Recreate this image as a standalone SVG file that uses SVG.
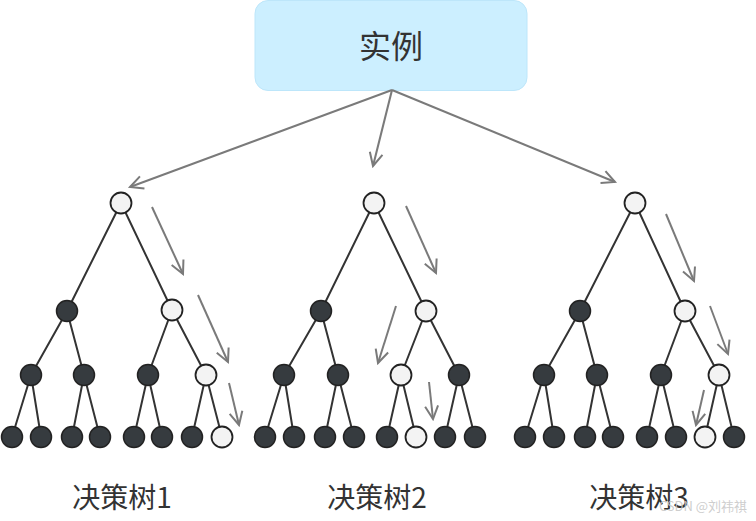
<svg xmlns="http://www.w3.org/2000/svg" width="756" height="521" viewBox="0 0 756 521">
<style>
.e{stroke:#333;stroke-width:2;fill:none}
.a{stroke:#7a7a7a;stroke-width:2;fill:none;marker-end:url(#arr)}
.d{fill:#363b3f;stroke:#222;stroke-width:1.5}
.l{fill:#f3f3f3;stroke:#222;stroke-width:1.8}
.t{font-family:"Noto Sans CJK SC","Noto Sans",sans-serif;fill:#333;text-anchor:middle}
</style>
<defs>
<marker id="arr" markerWidth="16" markerHeight="16" refX="14" refY="8" orient="auto" markerUnits="userSpaceOnUse">
<path d="M1,1.5 L14,8 L1,14.5" fill="none" stroke="#7a7a7a" stroke-width="2"/>
</marker>
</defs>
<rect width="756" height="521" fill="#fff"/>
<g id="root">
<rect x="255" y="0.5" width="272" height="90" rx="13" fill="#ccefff" stroke="#bde6fa" stroke-width="1"/>
<text class="t" x="391" y="58" font-size="32">实例</text>
</g>
<g id="connectors">
<line class="a" x1="392" y1="90" x2="130" y2="187"/>
<line class="a" x1="392" y1="90" x2="373" y2="166"/>
<line class="a" x1="392" y1="90" x2="615" y2="182"/>
<!-- tree 1 edges -->
<path class="e" d="M121,203 L67,311 M121,203 L172,310 M67,311 L31,375 M67,311 L84,375 M172,310 L148,375 M172,310 L206,375 M31,375 L12,437 M31,375 L41,437 M84,375 L72,437 M84,375 L100,437 M148,375 L134,437 M148,375 L162,437 M206,375 L192,437 M206,375 L222,437"/>
<!-- tree 2 edges -->
<path class="e" d="M374,203 L321,311 M374,203 L426,311 M321,311 L284,375 M321,311 L338,375 M426,311 L401,375 M426,311 L459,375 M284,375 L265,437 M284,375 L294,437 M338,375 L325,437 M338,375 L354,437 M401,375 L387,437 M401,375 L416,437 M459,375 L445,437 M459,375 L475,437"/>
<!-- tree 3 edges -->
<path class="e" d="M635,203 L580,311 M635,203 L685,311 M580,311 L544,375 M580,311 L597,375 M685,311 L661,375 M685,311 L719,375 M544,375 L525,437 M544,375 L554,437 M597,375 L585,437 M597,375 L613,437 M661,375 L647,437 M661,375 L676,437 M719,375 L705,437 M719,375 L734,437"/>
<!-- path arrows -->
<line class="a" x1="152" y1="207" x2="183" y2="274"/>
<line class="a" x1="198" y1="295" x2="228" y2="362"/>
<line class="a" x1="229" y1="383" x2="239" y2="425"/>
<line class="a" x1="406" y1="206" x2="436" y2="273"/>
<line class="a" x1="396" y1="306" x2="378" y2="363"/>
<line class="a" x1="429" y1="382" x2="433" y2="419"/>
<line class="a" x1="666" y1="214" x2="694" y2="281"/>
<line class="a" x1="710" y1="306" x2="728" y2="354"/>
<line class="a" x1="704" y1="390" x2="696" y2="425"/>
</g>
<!-- tree 1 nodes -->
<g id="t1-n0"><circle class="l" cx="121" cy="203" r="10.5"/></g>
<g id="t1-n1"><circle class="d" cx="67" cy="311" r="10.5"/></g>
<g id="t1-n2"><circle class="l" cx="172" cy="310" r="10.5"/></g>
<g id="t1-n3"><circle class="d" cx="31" cy="375" r="10.5"/></g>
<g id="t1-n4"><circle class="d" cx="84" cy="375" r="10.5"/></g>
<g id="t1-n5"><circle class="d" cx="148" cy="375" r="10.5"/></g>
<g id="t1-n6"><circle class="l" cx="206" cy="375" r="10.5"/></g>
<g id="t1-n7"><circle class="d" cx="12" cy="437" r="10.5"/></g>
<g id="t1-n8"><circle class="d" cx="41" cy="437" r="10.5"/></g>
<g id="t1-n9"><circle class="d" cx="72" cy="437" r="10.5"/></g>
<g id="t1-n10"><circle class="d" cx="100" cy="437" r="10.5"/></g>
<g id="t1-n11"><circle class="d" cx="134" cy="437" r="10.5"/></g>
<g id="t1-n12"><circle class="d" cx="162" cy="437" r="10.5"/></g>
<g id="t1-n13"><circle class="d" cx="192" cy="437" r="10.5"/></g>
<g id="t1-n14"><circle class="l" cx="222" cy="437" r="10.5"/></g>
<!-- tree 2 nodes -->
<g id="t2-n0"><circle class="l" cx="374" cy="203" r="10.5"/></g>
<g id="t2-n1"><circle class="d" cx="321" cy="311" r="10.5"/></g>
<g id="t2-n2"><circle class="l" cx="426" cy="311" r="10.5"/></g>
<g id="t2-n3"><circle class="d" cx="284" cy="375" r="10.5"/></g>
<g id="t2-n4"><circle class="d" cx="338" cy="375" r="10.5"/></g>
<g id="t2-n5"><circle class="l" cx="401" cy="375" r="10.5"/></g>
<g id="t2-n6"><circle class="d" cx="459" cy="375" r="10.5"/></g>
<g id="t2-n7"><circle class="d" cx="265" cy="437" r="10.5"/></g>
<g id="t2-n8"><circle class="d" cx="294" cy="437" r="10.5"/></g>
<g id="t2-n9"><circle class="d" cx="325" cy="437" r="10.5"/></g>
<g id="t2-n10"><circle class="d" cx="354" cy="437" r="10.5"/></g>
<g id="t2-n11"><circle class="d" cx="387" cy="437" r="10.5"/></g>
<g id="t2-n12"><circle class="l" cx="416" cy="437" r="10.5"/></g>
<g id="t2-n13"><circle class="d" cx="445" cy="437" r="10.5"/></g>
<g id="t2-n14"><circle class="d" cx="475" cy="437" r="10.5"/></g>
<!-- tree 3 nodes -->
<g id="t3-n0"><circle class="l" cx="635" cy="203" r="10.5"/></g>
<g id="t3-n1"><circle class="d" cx="580" cy="311" r="10.5"/></g>
<g id="t3-n2"><circle class="l" cx="685" cy="311" r="10.5"/></g>
<g id="t3-n3"><circle class="d" cx="544" cy="375" r="10.5"/></g>
<g id="t3-n4"><circle class="d" cx="597" cy="375" r="10.5"/></g>
<g id="t3-n5"><circle class="d" cx="661" cy="375" r="10.5"/></g>
<g id="t3-n6"><circle class="l" cx="719" cy="375" r="10.5"/></g>
<g id="t3-n7"><circle class="d" cx="525" cy="437" r="10.5"/></g>
<g id="t3-n8"><circle class="d" cx="554" cy="437" r="10.5"/></g>
<g id="t3-n9"><circle class="d" cx="585" cy="437" r="10.5"/></g>
<g id="t3-n10"><circle class="d" cx="613" cy="437" r="10.5"/></g>
<g id="t3-n11"><circle class="d" cx="647" cy="437" r="10.5"/></g>
<g id="t3-n12"><circle class="d" cx="676" cy="437" r="10.5"/></g>
<g id="t3-n13"><circle class="l" cx="705" cy="437" r="10.5"/></g>
<g id="t3-n14"><circle class="d" cx="734" cy="437" r="10.5"/></g>
<!-- labels -->
<g id="label1"><text class="t" x="122" y="508" font-size="28">决策树1</text></g>
<g id="label2"><text class="t" x="377" y="508" font-size="28">决策树2</text></g>
<g id="label3"><text class="t" x="639" y="508" font-size="28">决策树3</text></g>
<g id="watermark"><text x="703" y="511" font-size="13" text-anchor="middle" font-family="&quot;Noto Sans CJK SC&quot;,&quot;Noto Sans&quot;,sans-serif" fill="#c8c8c8" fill-opacity="0.9">CSDN @刘祎祺</text></g>
</svg>
